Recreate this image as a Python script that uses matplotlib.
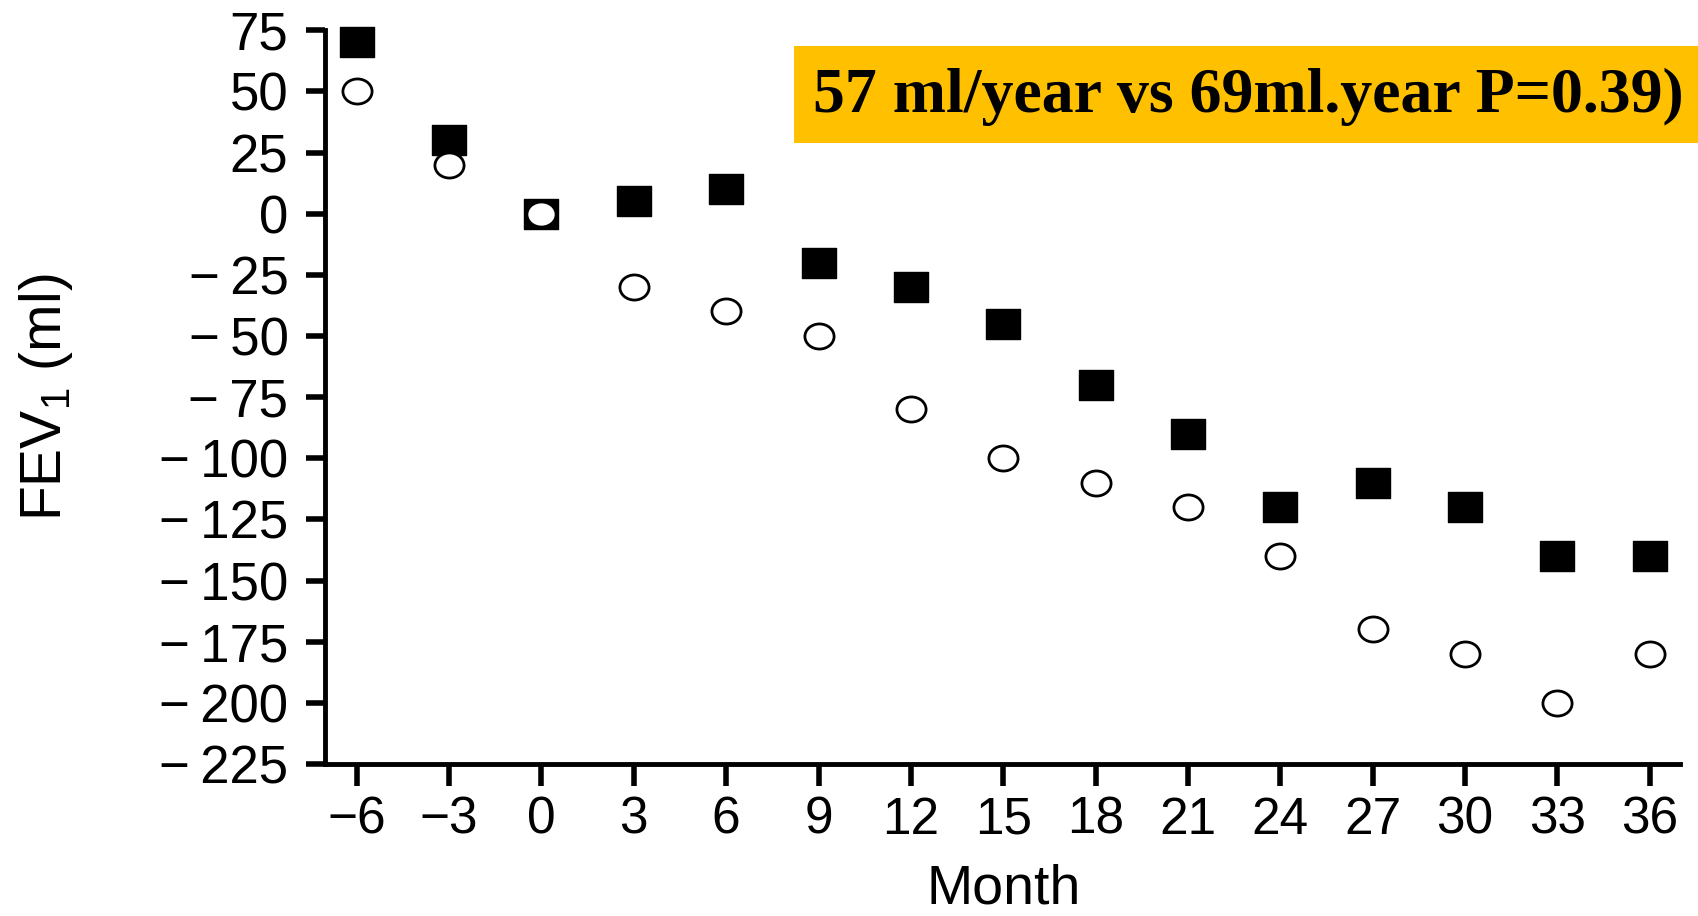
import matplotlib
matplotlib.use("Agg")
import matplotlib.pyplot as plt
from matplotlib.path import Path
from matplotlib.patches import Rectangle
import matplotlib.transforms as mtransforms

plt.rcParams['font.family'] = ['Liberation Sans', 'DejaVu Sans']
plt.rcParams['mathtext.fontset'] = 'custom'
plt.rcParams['mathtext.rm'] = 'Liberation Sans'
plt.rcParams['mathtext.it'] = 'Liberation Sans'

months = [-6, -3, 0, 3, 6, 9, 12, 15, 18, 21, 24, 27, 30, 33, 36]
group_filled = [70, 30, 0, 5, 10, -20, -30, -45, -70, -90, -120, -110, -120, -140, -140]
group_open = [50, 20, 0, -30, -40, -50, -80, -100, -110, -120, -140, -170, -180, -200, -180]
y_ticks = [75, 50, 25, 0, -25, -50, -75, -100, -125, -150, -175, -200, -225]
annotation = "57 ml/year vs 69ml.year P=0.39)"

fig = plt.figure(figsize=(16.99, 9.16), dpi=100)
ax = fig.add_axes([0.191, 0.166, 0.798, 0.801])

# slightly wide markers (the source image is horizontally stretched)
sq = Path([(-0.5, -0.43), (0.5, -0.43), (0.5, 0.43), (-0.5, 0.43), (-0.5, -0.43)],
          [Path.MOVETO, Path.LINETO, Path.LINETO, Path.LINETO, Path.CLOSEPOLY])
ell = Path.unit_circle().transformed(mtransforms.Affine2D().scale(1.0, 0.86))

ax.plot(months, group_filled, linestyle='none', marker=sq, markersize=25,
        markerfacecolor='black', markeredgecolor='black', clip_on=False, zorder=3)
ax.plot(months, group_open, linestyle='none', marker=ell, markersize=21,
        markerfacecolor='white', markeredgecolor='black', markeredgewidth=2.0,
        clip_on=False, zorder=4)

ax.set_xlim(-7.05, 37.0)
ax.set_ylim(-225, 75)
ax.set_xticks(months)
ax.set_xticklabels([("\u2212" + str(-m)) if m < 0 else str(m) for m in months])
ax.set_yticks(y_ticks)
ax.set_yticklabels([("\u2212\u2009" + str(-v)) if v < 0 else str(v) for v in y_ticks])

for s in ['top', 'right']:
    ax.spines[s].set_visible(False)
for s in ['left', 'bottom']:
    ax.spines[s].set_linewidth(3.5)

ax.tick_params(axis='y', direction='out', length=14, width=4, pad=12, labelsize=38)
ax.tick_params(axis='x', direction='out', length=16, width=4, pad=7, labelsize=37)

fig.text(0.5905, 0.001, "Month", ha='center', va='bottom', fontsize=40)
fig.text(0.0268, 0.566, "FEV$_1$ (ml)", ha='center', va='center', rotation=90, fontsize=41)

fig.patches.append(Rectangle((0.4675, 0.844), 0.5325, 0.106, transform=fig.transFigure,
                             facecolor='#FFC000', edgecolor='none', zorder=5))
fig.text(0.735, 0.894, annotation, ha='center', va='center', fontsize=46,
         fontweight='bold', family=['Liberation Serif', 'DejaVu Serif'], zorder=6)

fig.savefig("out.png", dpi=100)
